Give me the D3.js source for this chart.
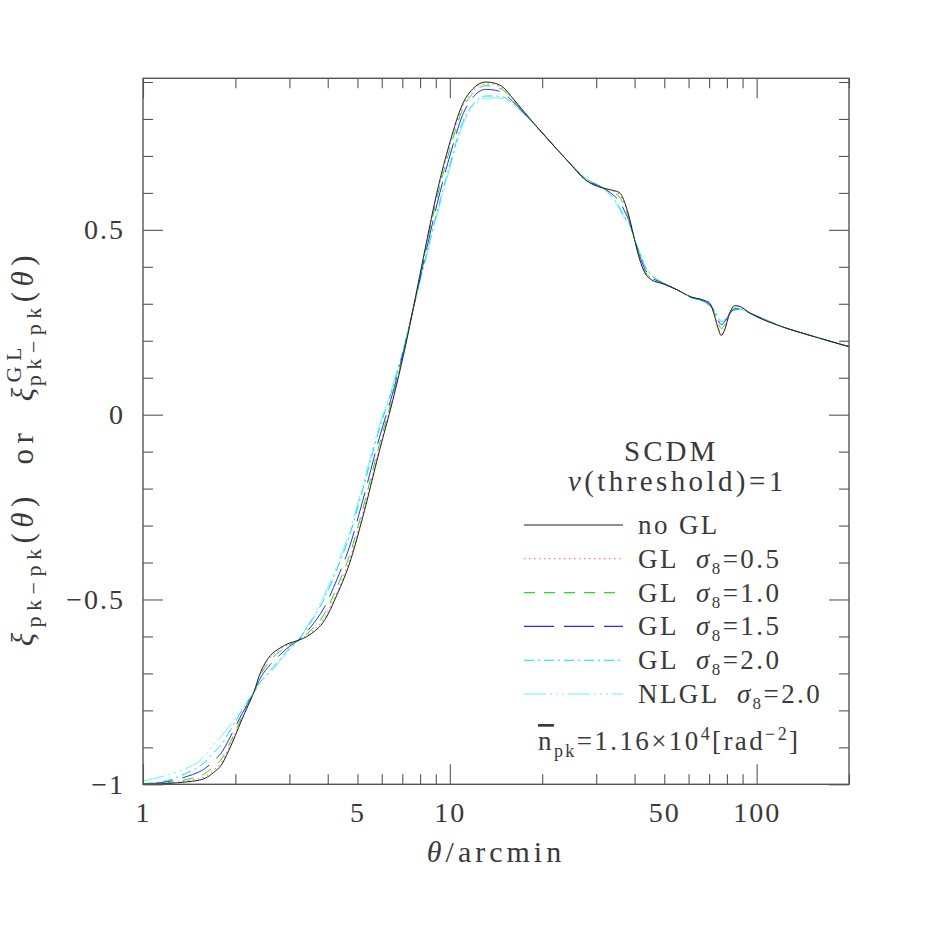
<!DOCTYPE html>
<html>
<head>
<meta charset="utf-8">
<script src="https://cdn.jsdelivr.net/npm/d3@7"></script>
<style>
  body { margin: 0; background: #fff; }
  svg text { font-family: "Liberation Serif", "Times New Roman", serif; fill: #3a3a3a; white-space: pre; }
</style>
</head>
<body>
<div class="canvas"></div>
<script>
// angular separation, arcmin
var theta = [1.0, 1.2, 1.4, 1.5, 1.6, 1.7, 1.8, 1.9, 2.0, 2.1, 2.2, 2.3, 2.4, 2.5, 2.6, 2.8, 3.0, 3.2, 3.5, 3.9,
  4.3, 4.7, 5.2, 5.9, 6.5, 7.1, 7.7, 8.3, 9.1, 10, 11, 12, 13.1, 14, 15, 16, 19.2, 24, 28, 31.6,
  34, 35.8, 37.2, 38.6, 40, 41.6, 43.2, 45.4, 49.5, 55, 61, 67, 70.3, 73, 74.8, 76.7, 78.7, 81.7, 84.8, 88,
  95, 121, 150, 200];

var noGL = [-1.000, -0.998, -0.993, -0.990, -0.983, -0.968, -0.948, -0.910, -0.868, -0.825, -0.787, -0.750, -0.703, -0.672, -0.652, -0.631, -0.618, -0.611, -0.595, -0.557,
  -0.485, -0.405, -0.278, -0.097, 0.035, 0.170, 0.311, 0.447, 0.605, 0.736, 0.840, 0.885, 0.900, 0.897, 0.884, 0.857, 0.779, 0.690, 0.632, 0.613,
  0.607, 0.600, 0.573, 0.528, 0.474, 0.419, 0.384, 0.365, 0.354, 0.338, 0.319, 0.310, 0.302, 0.266, 0.235, 0.214, 0.230, 0.275, 0.295, 0.293,
  0.275, 0.238, 0.214, 0.184];

var gl05 = [-1.000, -0.997, -0.990, -0.986, -0.978, -0.962, -0.941, -0.904, -0.863, -0.822, -0.786, -0.750, -0.706, -0.676, -0.657, -0.635, -0.620, -0.611, -0.591, -0.550,
  -0.477, -0.396, -0.269, -0.090, 0.039, 0.172, 0.310, 0.443, 0.598, 0.729, 0.834, 0.880, 0.895, 0.893, 0.881, 0.855, 0.779, 0.690, 0.632, 0.613,
  0.605, 0.595, 0.568, 0.526, 0.474, 0.421, 0.386, 0.366, 0.354, 0.338, 0.319, 0.310, 0.301, 0.268, 0.238, 0.218, 0.233, 0.275, 0.294, 0.292,
  0.275, 0.238, 0.214, 0.184];

var gl10 = [-0.999, -0.996, -0.986, -0.980, -0.970, -0.952, -0.932, -0.896, -0.857, -0.818, -0.783, -0.751, -0.710, -0.683, -0.664, -0.640, -0.623, -0.611, -0.586, -0.539,
  -0.464, -0.383, -0.256, -0.079, 0.046, 0.175, 0.310, 0.438, 0.589, 0.718, 0.825, 0.873, 0.890, 0.887, 0.877, 0.852, 0.779, 0.690, 0.633, 0.613,
  0.601, 0.588, 0.561, 0.524, 0.474, 0.424, 0.389, 0.369, 0.355, 0.338, 0.318, 0.309, 0.299, 0.273, 0.249, 0.233, 0.243, 0.274, 0.289, 0.289,
  0.275, 0.238, 0.214, 0.184];

var gl15 = [-0.999, -0.993, -0.978, -0.969, -0.956, -0.936, -0.915, -0.881, -0.845, -0.810, -0.780, -0.751, -0.716, -0.693, -0.676, -0.649, -0.627, -0.611, -0.577, -0.521,
  -0.443, -0.360, -0.233, -0.061, 0.056, 0.179, 0.308, 0.429, 0.572, 0.700, 0.810, 0.862, 0.880, 0.878, 0.869, 0.848, 0.779, 0.690, 0.634, 0.613,
  0.595, 0.576, 0.549, 0.519, 0.474, 0.429, 0.395, 0.372, 0.356, 0.338, 0.318, 0.308, 0.297, 0.277, 0.256, 0.244, 0.251, 0.273, 0.286, 0.287,
  0.275, 0.238, 0.214, 0.184];

var gl20 = [-0.998, -0.990, -0.968, -0.955, -0.938, -0.914, -0.893, -0.862, -0.830, -0.800, -0.775, -0.752, -0.725, -0.707, -0.692, -0.661, -0.633, -0.611, -0.565, -0.497,
  -0.415, -0.330, -0.203, -0.037, 0.070, 0.185, 0.306, 0.417, 0.550, 0.676, 0.790, 0.843, 0.862, 0.862, 0.859, 0.842, 0.779, 0.690, 0.636, 0.613,
  0.587, 0.560, 0.533, 0.513, 0.474, 0.436, 0.402, 0.377, 0.357, 0.338, 0.317, 0.306, 0.295, 0.280, 0.262, 0.252, 0.256, 0.272, 0.283, 0.285,
  0.275, 0.238, 0.214, 0.184];

var nlgl20 = [-0.991, -0.975, -0.955, -0.942, -0.920, -0.892, -0.870, -0.845, -0.822, -0.795, -0.772, -0.752, -0.728, -0.712, -0.698, -0.666, -0.636, -0.611, -0.561, -0.488,
  -0.405, -0.319, -0.192, -0.028, 0.075, 0.187, 0.305, 0.413, 0.542, 0.667, 0.783, 0.837, 0.856, 0.857, 0.855, 0.840, 0.779, 0.690, 0.637, 0.613,
  0.584, 0.556, 0.530, 0.511, 0.474, 0.439, 0.405, 0.379, 0.357, 0.338, 0.317, 0.306, 0.296, 0.282, 0.264, 0.255, 0.258, 0.273, 0.283, 0.285,
  0.275, 0.238, 0.214, 0.184];

var xLabelTicks = [1, 5, 10, 50, 100];
var xMajorTicks = [1, 10, 100];
var xMinorTicks = [2, 3, 4, 5, 6, 7, 8, 9, 20, 30, 40, 50, 60, 70, 80, 90, 200];
var yLabelTicks = [-1, -0.5, 0, 0.5];
var yMinorTicks = [-0.9, -0.8, -0.7, -0.6, -0.4, -0.3, -0.2, -0.1, 0.1, 0.2, 0.3, 0.4, 0.6, 0.7, 0.8, 0.9];

var series = [
  {name: "noGL", vals: noGL, color: "#222", dash: null},
  {name: "gl05", vals: gl05, color: "#ff5a5a", dash: "1.5,3.5"},
  {name: "gl10", vals: gl10, color: "#22dd22", dash: "11,9"},
  {name: "gl15", vals: gl15, color: "#2a2aff", dash: "30,10"},
  {name: "gl20", vals: gl20, color: "#00e5e5", dash: "10,4,2,4"},
  {name: "nlgl20", vals: nlgl20, color: "#6ef0f0", dash: "22,4,2,4,2,4,2,4"}
];

var W = 926, H = 926;
var svg = d3.select("body div.canvas").append("svg")
  .attr("width", W).attr("height", H);

var x = d3.scaleLog().domain([1, 200]).range([143, 849]);
var y = d3.scaleLinear().domain([-1, 0.91]).range([784.3, 78.3]);

svg.append("clipPath").attr("id", "clip")
  .append("rect").attr("x", 143).attr("y", 78.3).attr("width", 706).attr("height", 706);

// curves
var line = d3.line()
  .x(function(d) { return x(d[0]); })
  .y(function(d) { return y(d[1]); })
  .curve(d3.curveMonotoneX);

// draw from the lightest to black on top
series.slice().reverse().forEach(function(s) {
  svg.append("path")
    .attr("clip-path", "url(#clip)")
    .attr("d", line(theta.map(function(t, i) { return [t, s.vals[i]]; })))
    .attr("fill", "none")
    .attr("stroke", s.color)
    .attr("stroke-width", 1)
    .attr("stroke-dasharray", s.dash);
});

// axes, ticks pointing inward
function tickAxis(axis, vals, size, tr) {
  var g = svg.append("g").attr("transform", tr)
    .call(axis.tickValues(vals).tickSize(size).tickFormat(""));
  g.select(".domain").remove();
  g.selectAll("line").attr("stroke", "#555").attr("stroke-width", 1.1);
  return g;
}
tickAxis(d3.axisBottom(x), xMajorTicks, -20, "translate(0,784.3)");
tickAxis(d3.axisBottom(x), xMinorTicks, -10, "translate(0,784.3)");
tickAxis(d3.axisTop(x), xMajorTicks, -20, "translate(0,78.3)");
tickAxis(d3.axisTop(x), xMinorTicks, -10, "translate(0,78.3)");
tickAxis(d3.axisLeft(y), yLabelTicks, -20, "translate(143,0)");
tickAxis(d3.axisLeft(y), yMinorTicks, -10, "translate(143,0)");
tickAxis(d3.axisRight(y), yLabelTicks, -20, "translate(849,0)");
tickAxis(d3.axisRight(y), yMinorTicks, -10, "translate(849,0)");

svg.append("rect")
  .attr("x", 143).attr("y", 78.3).attr("width", 706).attr("height", 706)
  .attr("fill", "none").attr("stroke", "#555").attr("stroke-width", 1.4);

// tick labels
var gx = svg.append("g").attr("transform", "translate(0,784.3)")
  .call(d3.axisBottom(x).tickValues(xLabelTicks).tickSize(0).tickPadding(18)
    .tickFormat(function(d) { return String(d); }));
gx.select(".domain").remove();
gx.selectAll("text").attr("font-size", 28).style("letter-spacing", "2px").attr("fill", "#3a3a3a");

var gy = svg.append("g").attr("transform", "translate(143,0)")
  .call(d3.axisLeft(y).tickValues(yLabelTicks).tickSize(0).tickPadding(18)
    .tickFormat(function(d) { return d < 0 ? "\u2212" + Math.abs(d) : String(d); }));
gy.select(".domain").remove();
gy.selectAll("text").attr("font-size", 28).style("letter-spacing", "2px").attr("fill", "#3a3a3a");

// x title
var xt = svg.append("text").attr("x", 496).attr("y", 862).attr("text-anchor", "middle")
  .attr("font-size", 30).style("letter-spacing", "4px");
xt.append("tspan").attr("font-style", "italic").text("\u03b8");
xt.append("tspan").text("/arcmin");

// y title
var yt = svg.append("text").attr("transform", "translate(33,448) rotate(-90)")
  .attr("text-anchor", "middle").attr("font-size", 31).style("letter-spacing", "5.5px");
yt.append("tspan").attr("font-style", "italic").text("\u03be");
yt.append("tspan").attr("font-size", 22).attr("dy", 8).text("pk\u2212pk");
yt.append("tspan").attr("dy", -8).text("(");
yt.append("tspan").attr("font-style", "italic").text("\u03b8");
yt.append("tspan").text(")  or  ");
yt.append("tspan").attr("font-style", "italic").text("\u03be");
yt.append("tspan").attr("font-size", 22).attr("dy", -12).text("GL");
yt.append("tspan").attr("font-size", 22).attr("dx", -44).attr("dy", 20).text("pk\u2212pk");
yt.append("tspan").attr("dy", -8).text("(");
yt.append("tspan").attr("font-style", "italic").text("\u03b8");
yt.append("tspan").text(")");

// legend header
svg.append("text").attr("x", 624).attr("y", 461).attr("font-size", 29)
  .style("letter-spacing", "3px").text("SCDM");
var nu = svg.append("text").attr("x", 568).attr("y", 491).attr("font-size", 29)
  .style("letter-spacing", "3.4px");
nu.append("tspan").attr("font-style", "italic").text("\u03bd");
nu.append("tspan").text("(threshold)=1");

// legend rows
var legendLabels = [
  {pre: "no GL", sig: null},
  {pre: "GL  ", sig: "0.5"},
  {pre: "GL  ", sig: "1.0"},
  {pre: "GL  ", sig: "1.5"},
  {pre: "GL  ", sig: "2.0"},
  {pre: "NLGL  ", sig: "2.0"}
];
var rowY = d3.scalePoint().domain(d3.range(series.length)).range([525, 694]);
series.forEach(function(s, i) {
  var yy = rowY(i);
  svg.append("line").attr("x1", 524).attr("x2", 623).attr("y1", yy).attr("y2", yy)
    .attr("stroke", s.color).attr("stroke-width", 1.1).attr("stroke-dasharray", s.dash);
  var t = svg.append("text").attr("x", 638).attr("y", yy + 9).attr("font-size", 27)
    .style("letter-spacing", "2.4px");
  var L = legendLabels[i];
  t.append("tspan").text(L.pre);
  if (L.sig) {
    t.append("tspan").attr("font-style", "italic").text("\u03c3");
    t.append("tspan").attr("font-size", 17).attr("dy", 6).text("8");
    t.append("tspan").attr("dy", -6).text("=" + L.sig);
  }
});

// mean peak density
var np = svg.append("text").attr("x", 538).attr("y", 750).attr("font-size", 27)
  .style("letter-spacing", "2.4px");
np.append("tspan").attr("text-decoration", "overline").text("n");
np.append("tspan").attr("font-size", 18).attr("dy", 7).text("pk");
np.append("tspan").attr("dy", -7).text("=1.16\u00d710");
np.append("tspan").attr("font-size", 18).attr("dy", -10).text("4");
np.append("tspan").attr("dy", 10).text("[rad");
np.append("tspan").attr("font-size", 18).attr("dy", -10).text("\u22122");
np.append("tspan").attr("dy", 10).text("]");
</script>
</body>
</html>
